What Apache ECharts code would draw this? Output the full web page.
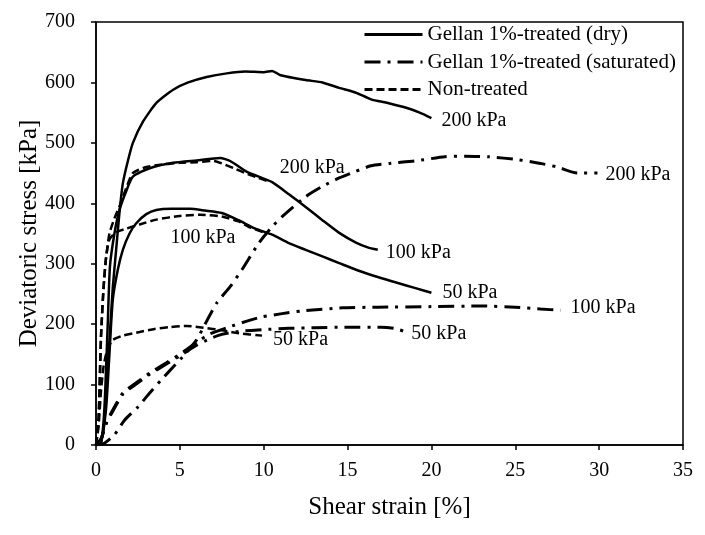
<!DOCTYPE html>
<html>
<head>
<meta charset="utf-8">
<script src="https://cdn.jsdelivr.net/npm/echarts@6/dist/echarts.min.js"></script>
<style>html,body{margin:0;padding:0;background:#fff}#c{width:705px;height:535px}</style>
</head>
<body>
<div id="c"></div>
<script>
// ---- data: [shear strain %, deviatoric stress kPa] ----
const dry200 = [[0,0],[0.3,5],[0.5,40],[0.7,130],[0.83,185],[1.0,260],[1.2,323],[1.4,385],[1.6,433],[1.9,470],[2.2,500],[2.8,535],[3.6,566],[4.6,588],[5.5,600],[6.6,609],[7.8,615],[8.9,618],[10.0,617],[10.5,619],[11,612],[12.5,604],[13.5,600],[14.5,591],[15.5,583],[16.4,572],[17.4,566],[18.5,558],[19.3,550],[20,541]];
const dry100 = [[0,0],[0.3,5],[0.5,60],[0.7,200],[0.83,295],[1.1,350],[1.4,389],[1.8,420],[2.2,444],[3.2,458],[4.6,467],[6,471],[7.4,475],[8.0,470],[9.0,452],[10.5,435],[11.5,415],[12.5,394],[13.5,372],[14.5,351],[15.5,335],[16.2,327],[16.8,323]];
const dry50 = [[0,0],[0.3,5],[0.6,60],[0.8,150],[1.0,240],[1.3,290],[1.6,323],[2.0,350],[2.4,367],[3.0,382],[3.6,389],[4.5,391],[5.6,391],[6.5,388],[7.5,384],[8.5,372],[9.5,358],[10.5,348],[11.5,334],[12.5,323],[13.5,312],[14.5,301],[15.5,290],[16.8,278],[18,268],[19,260],[20,252]];
const sat200 = [[0,0],[0.5,3],[1.1,17],[1.7,41],[2.5,63],[3.2,86],[3.9,108],[4.6,129],[5.3,150],[6.0,174],[6.6,205],[7.2,235],[8.0,262],[8.7,290],[9.7,334],[10.4,358],[11.1,378],[12.5,411],[13.5,428],[14.5,442],[15.5,453],[16.4,462],[17.5,466],[19,470],[20.8,477],[22,478],[23.4,477],[25.2,472],[26.5,466],[27.5,460],[28.7,450],[29.9,450]];
const sat100 = [[0,0],[0.3,10],[0.6,35],[1.0,58],[1.6,86],[2.4,103],[3.2,119],[4.2,136],[5.2,154],[6.0,170],[6.8,184],[7.9,195],[9.0,205],[9.9,212],[11,217],[12.3,222],[14.7,227],[16.8,228],[20,229],[23,230],[25,228],[26.5,225],[27.7,223]];
const sat50 = [[0,0],[0.3,10],[0.6,35],[1.0,56],[1.6,84],[2.4,101],[3.2,117],[4.2,134],[5.2,151],[6.0,165],[6.8,176],[7.5,183],[8.5,188],[10,191],[11.5,193],[13,194],[15,195],[17,195],[17.8,193],[18.5,187]];
const non200 = [[0,0],[0.15,40],[0.3,180],[0.45,260],[0.6,310],[0.8,350],[1.1,375],[1.4,395],[1.8,425],[2.2,450],[3,460],[3.6,463],[5,467],[6,468],[7,470],[7.5,466],[8.3,457],[8.9,450],[9.6,443],[10.3,436]];
const non100 = [[0,0],[0.15,40],[0.3,180],[0.45,260],[0.6,310],[0.8,340],[1.2,352],[1.8,358],[2.6,365],[3.6,373],[5,379],[6.2,381],[7.5,378],[8.5,370],[9.1,361],[10.1,351]];
const non50 = [[0,0],[0.15,30],[0.3,90],[0.45,130],[0.6,150],[0.8,165],[1.0,174],[1.6,181],[2.6,187],[3.5,192],[4.4,195],[5.4,197],[6.4,194],[7.5,190],[8.5,185],[9.9,181]];

const legendNames = ['Gellan 1%-treated (dry)', 'Gellan 1%-treated (saturated)', 'Non-treated'];
const pressureLabels = ['200 kPa', '100 kPa', '50 kPa'];
const xTicks = [0, 5, 10, 15, 20, 25, 30, 35];
const yTicks = [0, 100, 200, 300, 400, 500, 600, 700];

const FONT = 'Liberation Serif, Times New Roman, serif';
const styles = {
  solid: {type: 'solid', width: 2.5},
  dashdot: {type: [16, 7, 3, 7], width: 3},
  dashed: {type: [8, 4], width: 2.5}
};

function mk(nameIdx, data, style, label, offset) {
  return {
    name: legendNames[nameIdx],
    type: 'line',
    data: data,
    symbol: 'none',
    smooth: 0.2,
    lineStyle: Object.assign({color: '#000'}, styles[style]),
    itemStyle: {color: '#000'},
    emphasis: {disabled: true},
    endLabel: {
      show: true,
      formatter: label,
      offset: offset,
      color: '#000',
      fontSize: 20,
      fontFamily: FONT
    }
  };
}

const series = [
  mk(0, dry200, 'solid', pressureLabels[0], [2, 3]),
  mk(0, dry100, 'solid', pressureLabels[1], [0, 3]),
  mk(0, dry50, 'solid', pressureLabels[2], [3, 0]),
  mk(1, sat200, 'dashdot', pressureLabels[0], [0, 2]),
  mk(1, sat100, 'dashdot', pressureLabels[1], [2, -2]),
  mk(1, sat50, 'dashdot', pressureLabels[2], [-3, 2]),
  mk(2, non200, 'dashed', pressureLabels[0], [3, -14]),
  mk(2, non100, 'dashed', pressureLabels[1], [-103, 5]),
  mk(2, non50, 'dashed', pressureLabels[2], [3, 4])
];

const chart = echarts.init(document.getElementById('c'), null, {renderer: 'canvas'});
chart.setOption({
  animation: false,
  backgroundColor: '#fff',
  grid: {left: 96, right: 22, top: 22, bottom: 90, show: true, borderColor: '#000', borderWidth: 1.5},
  legend: {
    data: legendNames,
    orient: 'vertical',
    left: 358,
    top: 19,
    itemWidth: 58,
    itemHeight: 14,
    itemGap: 6.5,
    itemStyle: {opacity: 0},
    lineStyle: {width: 3},
    textStyle: {fontSize: 21, lineHeight: 21, fontFamily: FONT, color: '#000'}
  },
  xAxis: {
    type: 'value',
    min: xTicks[0],
    max: xTicks[xTicks.length - 1],
    interval: 5,
    name: 'Shear strain [%]',
    nameLocation: 'middle',
    nameGap: 50,
    nameTextStyle: {fontSize: 25, fontFamily: FONT, color: '#000'},
    axisLine: {lineStyle: {color: '#000', width: 1.5}},
    axisTick: {show: true, length: 5, lineStyle: {color: '#000', width: 1.5}},
    axisLabel: {fontSize: 20, fontFamily: FONT, color: '#000', margin: 16},
    splitLine: {show: false}
  },
  yAxis: {
    type: 'value',
    min: yTicks[0],
    max: yTicks[yTicks.length - 1],
    interval: 100,
    name: 'Deviatoric stress [kPa]',
    nameLocation: 'middle',
    nameGap: 54,
    nameMoveOverlap: false,
    nameTextStyle: {fontSize: 25, fontFamily: FONT, color: '#000'},
    axisLine: {lineStyle: {color: '#000', width: 1.5}},
    axisTick: {show: true, length: 5, lineStyle: {color: '#000', width: 1.5}},
    axisLabel: {fontSize: 20, fontFamily: FONT, color: '#000', margin: 21},
    splitLine: {show: false}
  },
  series: series
});
</script>
</body>
</html>
